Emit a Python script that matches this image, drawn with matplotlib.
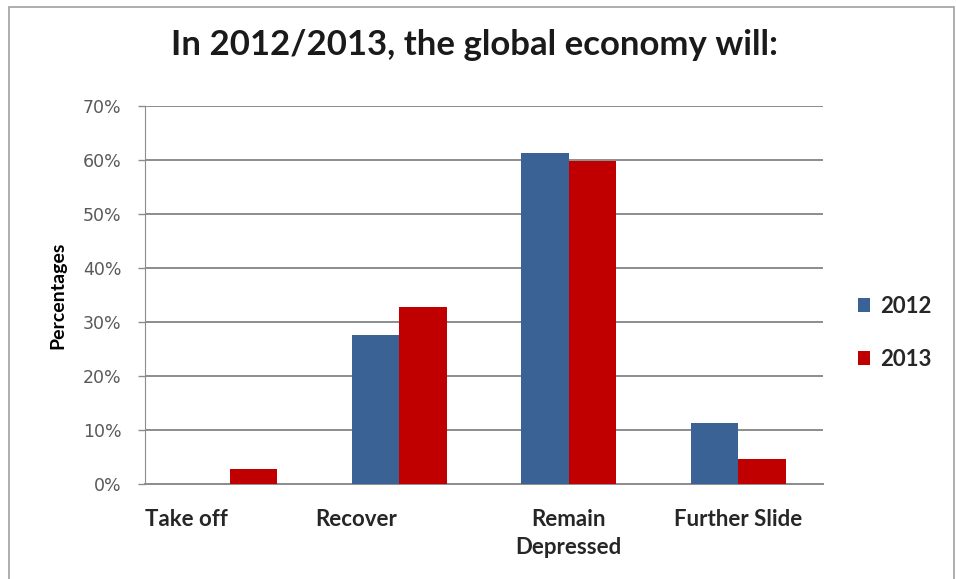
import matplotlib.pyplot as plt
import numpy as np
from matplotlib.patches import Rectangle
from matplotlib.ticker import PercentFormatter
import matplotlib.transforms as mtransforms

# data
categories = ['Take off', 'Recover', 'Remain\nDepressed', 'Further Slide']
series_names = ['2012', '2013']
values_2012 = [0.0, 27.5, 61.3, 11.3]
values_2013 = [2.8, 32.8, 59.9, 4.6]
y_ticks = [0, 10, 20, 30, 40, 50, 60, 70]

blue = '#3B6294'
red = '#C00000'
grid_gray = '#8C8C8C'

plt.rcParams['font.family'] = ['Lato', 'DejaVu Sans']

fig = plt.figure(figsize=(9.56, 5.79), dpi=100)
ax = fig.add_axes([0.1517, 0.1641, 0.7092, 0.6528])

x = np.arange(len(categories))
w = 0.28
ax.bar(x - w / 2, values_2012, w, color=blue, label=series_names[0], zorder=3)
ax.bar(x + w / 2, values_2013, w, color=red, label=series_names[1], zorder=3)

ax.set_xlim(-0.5, len(categories) - 0.5)
ax.set_ylim(0, 70)
ax.set_yticks(y_ticks)
ax.yaxis.set_major_formatter(PercentFormatter(decimals=0))
ax.grid(axis='y', color=grid_gray, linewidth=1.4, zorder=0)

# spines / ticks
for s in ['top', 'right']:
    ax.spines[s].set_visible(False)
ax.spines['left'].set_color(grid_gray)
ax.spines['bottom'].set_color(grid_gray)
ax.spines['bottom'].set_linewidth(1.4)
ax.tick_params(axis='y', colors=grid_gray, length=5, width=1, labelsize=12.5,
               labelcolor='#595959', pad=12)
for lbl in ax.get_yticklabels():
    lbl.set_family('DejaVu Sans')
ax.tick_params(axis='x', length=0, pad=18)

ax.set_xticks(x)
ax.set_xticklabels(categories, fontsize=16, fontweight='bold', color='#262626',
                   va='top', linespacing=1.4)
# the first two labels sit a bit left of their bars in the original
for lbl in ax.get_xticklabels()[:2]:
    lbl.set_transform(lbl.get_transform() +
                      mtransforms.ScaledTranslation(-0.43, 0, fig.dpi_scale_trans))

ax.set_ylabel('Percentages', fontsize=14, fontweight='bold', color='black', labelpad=12)

fig.suptitle('In 2012/2013, the global economy will:', x=0.496, y=0.95,
             fontsize=25, fontweight='bold', color='#1a1a1a')

leg = ax.legend(loc='center left', bbox_to_anchor=(1.022, 0.40), frameon=False,
                fontsize=16, handlelength=0.55, handleheight=0.55, labelspacing=1.45,
                handletextpad=0.45)
for t in leg.get_texts():
    t.set_fontweight('bold')
    t.set_color('#262626')

# light border round the chart
fig.patches.append(Rectangle((9 / 956, -0.01), 945 / 956, 1 - 7 / 579 + 0.01,
                             transform=fig.transFigure, fill=False,
                             edgecolor='#A0A0A0', linewidth=1.2))

fig.savefig('out.png', dpi=100)
